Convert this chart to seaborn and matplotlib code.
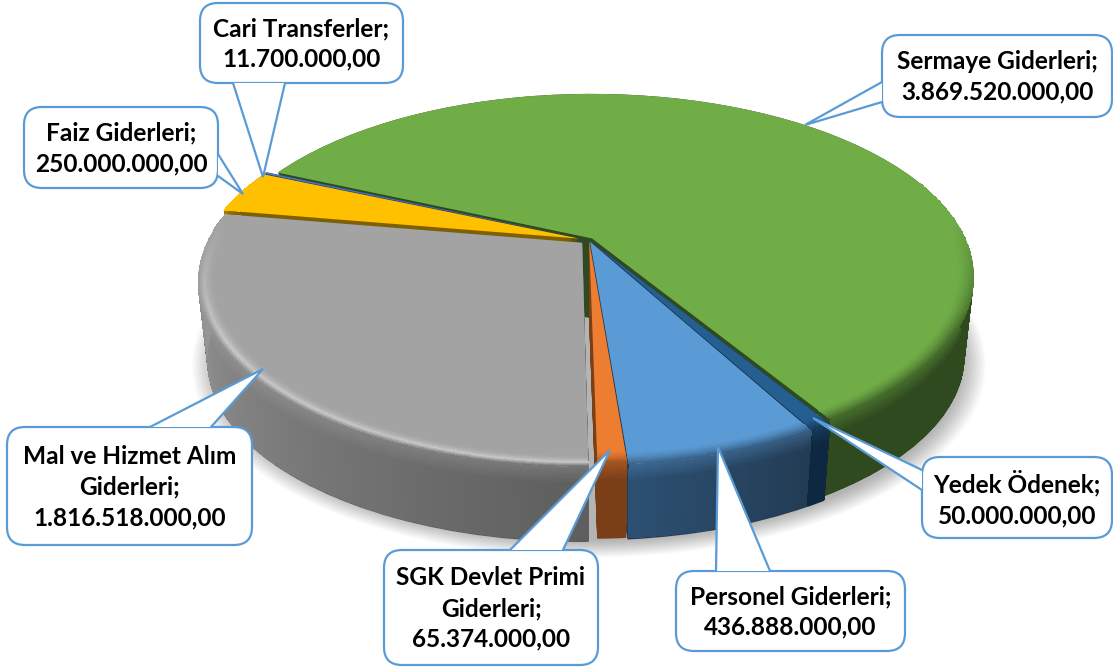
import numpy as np
import matplotlib
matplotlib.use('Agg')
import matplotlib.pyplot as plt
from matplotlib.patches import FancyBboxPatch, Polygon
from matplotlib.transforms import Transform
from matplotlib.colors import to_rgb
import seaborn as sns

# data, clockwise from the top left
categories = ['Sermaye Giderleri', 'Yedek Ödenek', 'Personel Giderleri', 'SGK Devlet Primi\nGiderleri',
              'Mal ve Hizmet Alım\nGiderleri', 'Faiz Giderleri', 'Cari Transferler']
values = [3869520000, 50000000, 436888000, 65374000, 1816518000, 250000000, 11700000]

# styles
face_colors = ['#70ad47', '#255e91', '#5b9bd5', '#ed7d31', '#a3a3a3', '#ffc000', '#4472c4']
side_end = ['#2e4a1e', '#0e2841', '#233c54', '#7a3f17', '#5e5e5e', '#7f6000', '#223962']
side_start = ['#2e4a1e', '#0e2841', '#2c5072', '#7a3f17', '#a0a0a0', '#7f6000', '#223962']
rim_light = [None, None, None, None, '#c8c8c8', None, None]
explode = [0.012, 0.01, 0.01, 0.004, 0.024, 0.028, 0.028]
paint_order = [0, 6, 5, 1, 2, 3, 4]
start_angle = 155.9

# perspective of the pie top (depth 0) and bottom (depth 1), in pixels
TOP = dict(x0=589.0, y0=240.0, a=374.0, b=175.5, k=0.21)
BOTTOM = dict(x0=589.0, y0=320.0, a=365.0, b=172.0, k=0.21)


def project(u, v, depth=0.0):
    p = {key: TOP[key] + (BOTTOM[key] - TOP[key]) * depth for key in TOP}
    w = 1 + p['k'] * v
    return p['x0'] + p['a'] * u / w, p['y0'] - p['b'] * v / w


class PieProjection(Transform):
    input_dims = 2
    output_dims = 2
    is_affine = False

    def __init__(self, level=0.0, shift=(0, 0)):
        super().__init__()
        self.level = level
        self.shift = shift

    def transform_non_affine(self, values):
        values = np.asarray(values)
        x, y = project(values[:, 0], values[:, 1], self.level)
        return np.column_stack([x + self.shift[0], y + self.shift[1]])


def turkish_number(value):
    return f'{value:,.2f}'.replace(',', '#').replace('.', ',').replace('#', '.')


def callout(ax, box, tail, tip, text, r=18):
    x0, y0, x1, y1 = box
    edge = '#5b9bd5'
    ax.add_patch(FancyBboxPatch((x0 + r, y0 + r), x1 - x0 - 2 * r, y1 - y0 - 2 * r,
                                boxstyle=f'round,pad={r},rounding_size={r}',
                                fc='white', ec=edge, lw=1.6, zorder=20000))
    ax.add_patch(Polygon([tail[0], tip, tail[1]], closed=True, fc='white', ec='none', zorder=20001))
    ax.plot([tail[0][0], tip[0], tail[1][0]], [tail[0][1], tip[1], tail[1][1]],
            color=edge, lw=1.6, zorder=20002, solid_joinstyle='miter')
    ax.text((x0 + x1) / 2, (y0 + y1) / 2 + 1, text, ha='center', va='center', fontsize=17.6,
            fontweight='bold', family='Lato', color='black', linespacing=1.4, zorder=20003)


sns.set_theme(style='white')
fig = plt.figure(figsize=(11.13, 6.67), dpi=100)
ax = fig.add_axes([0, 0, 1, 1])

# soft shadow under the pie
for r in np.linspace(1.06, 1.0, 16):
    wedges, _ = ax.pie([1], radius=r, colors=['black'], wedgeprops=dict(alpha=0.02, lw=0))
    wedges[0].set_transform(PieProjection(1.0, (0, 3)) + ax.transData)
    wedges[0].set_zorder(1)

# pie body: stacked layers from the bottom up
n_layers = 70
for i, level in enumerate(np.linspace(1, 0, n_layers)):
    wedges, _ = ax.pie(values, explode=explode, startangle=start_angle, counterclock=False,
                       colors=side_end, wedgeprops=dict(lw=0))
    for j, w in enumerate(wedges):
        w.set_transform(PieProjection(level) + ax.transData)
        w.set_zorder(10 + paint_order.index(j) * 1000 + i)

# top faces
tops, _ = ax.pie(values, explode=explode, startangle=start_angle, counterclock=False,
                 colors=face_colors, wedgeprops=dict(lw=0))
for w in tops:
    w.set_transform(PieProjection(0.0) + ax.transData)
    w.set_zorder(10000)

# outer wall shading and the rounded rim
for j, w in enumerate(tops):
    cx, cy = w.center
    thetas = np.radians(np.linspace(w.theta1, w.theta2, max(int(w.theta2 - w.theta1) * 2, 6)))
    thetas = thetas[np.sin(thetas) < 0.35]
    if len(thetas) < 2:
        continue
    mid = (thetas[:-1] + thetas[1:]) / 2
    face = np.array(to_rgb(face_colors[j]))
    a = np.array(to_rgb(side_end[j]))
    b = np.array(to_rgb(side_start[j]))
    frac = (mid - mid.min()) / max(mid.max() - mid.min(), 1e-6)
    side = b[None, :] * (1 - frac[:, None]) + a[None, :] * frac[:, None]
    strength = np.clip((0.1 - np.sin(mid)) / 0.6, 0, 1)[:, None]

    # wall
    depths = np.linspace(0, 0.985, 30)
    X = np.array([project(cx + np.cos(thetas), cy + np.sin(thetas), d)[0] for d in depths])
    Y = np.array([project(cx + np.cos(thetas), cy + np.sin(thetas), d)[1] for d in depths])
    C = np.zeros((len(depths) - 1, len(mid), 3))
    rim_end = face * 0.3 + side * 0.7
    for row in range(len(depths) - 1):
        t = min(row / 6.0, 1.0)
        C[row] = rim_end * (1 - t) + side * t
    ax.pcolormesh(X, Y, np.clip(C, 0, 1), shading='flat', zorder=10 + paint_order.index(j) * 1000 + 900, lw=0)

    # rim on the top face
    radii = np.linspace(0.955, 1.0, 25)
    X = np.array([project(cx + q * np.cos(thetas), cy + q * np.sin(thetas), 0)[0] for q in radii])
    Y = np.array([project(cx + q * np.cos(thetas), cy + q * np.sin(thetas), 0)[1] for q in radii])
    C = np.zeros((len(radii) - 1, len(mid), 3))
    for row in range(len(radii) - 1):
        t = row / (len(radii) - 2)
        if rim_light[j]:
            light = np.array(to_rgb(rim_light[j]))
            if t < 0.65:
                col = face + (light - face) * (t / 0.65) ** 2
            else:
                col = light + (rim_end - light) * ((t - 0.65) / 0.35)
        else:
            col = face + (rim_end - face) * t ** 1.5
        C[row] = face * (1 - strength) + col * strength
    ax.pcolormesh(X, Y, np.clip(C, 0, 1), shading='flat', zorder=11000, lw=0)

# callouts
labels = [f'{c};\n{turkish_number(v)}' for c, v in zip(categories, values)]
callout(ax, (882, 35, 1112, 117), [(882, 82), (882, 102)], (805, 125), labels[0])
callout(ax, (922, 457, 1112, 538), [(922, 470), (922, 490)], (813, 418), labels[1])
callout(ax, (676, 571, 905, 651), [(716, 571), (770, 571)], (718, 447), labels[2])
callout(ax, (384, 550, 598, 665), [(510, 550), (563, 550)], (610, 450), labels[3])
callout(ax, (7, 427, 252, 545), [(150, 427), (211, 427)], (263, 369), labels[4])
callout(ax, (24, 107, 218, 188), [(218, 154), (218, 176)], (243, 194), labels[5])
callout(ax, (200, 3, 403, 83), [(233, 83), (285, 83)], (263, 177), labels[6])

ax.set_aspect('auto')
ax.set_xlim(0, 1113)
ax.set_ylim(667, 0)
ax.axis('off')
fig.savefig('out.png', dpi=100)
